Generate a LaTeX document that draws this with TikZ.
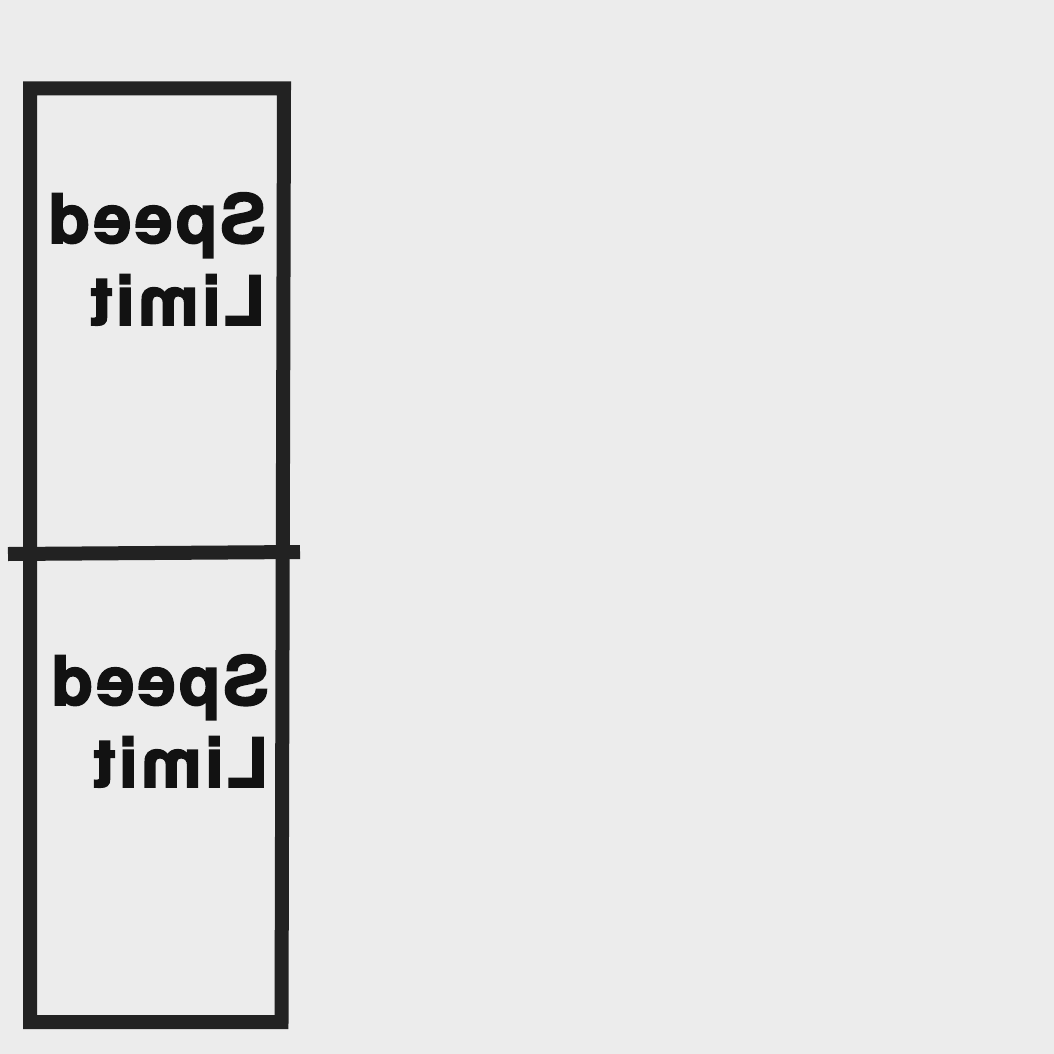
\documentclass[tikz,border=0pt]{standalone}
\usepackage{fontspec}
\newfontfamily\signfont{TeX Gyre Heros}[BoldFeatures={FakeBold=2.4, LetterSpace=5}]
\definecolor{signbg}{HTML}{ECECEC}
\definecolor{signline}{HTML}{222222}
\definecolor{signink}{HTML}{121212}

\begin{document}
\begin{tikzpicture}[x=0.5pt, y=-0.5pt,
      frame/.style={draw=signline, line width=7pt, line join=miter},
      signtext/.style={anchor=base east, inner sep=0pt, text=signink,
        font=\signfont\fontsize{34}{41}\selectfont\bfseries}]
  \fill [signbg] (0,0) rectangle (1054,1054);
  % the post and its two plates
  \draw [frame] (30,88.5) -- (284,88.5) -- (281.5,1022) -- (30,1022) -- cycle;
  \coordinate (barL) at (8,554);
  \coordinate (barR) at (300,552);
  \draw [frame] (barL) -- (barR);
  % mirrored lettering
  \node [signtext] (speedA) at (266,243) {\reflectbox{Speed}};
  \node [signtext] (limitA) at (266,325) {\reflectbox{Limit}};
  \node [signtext] (speedB) at (269,705) {\reflectbox{Speed}};
  \node [signtext] (limitB) at (269,787) {\reflectbox{Limit}};
\end{tikzpicture}
\end{document}
